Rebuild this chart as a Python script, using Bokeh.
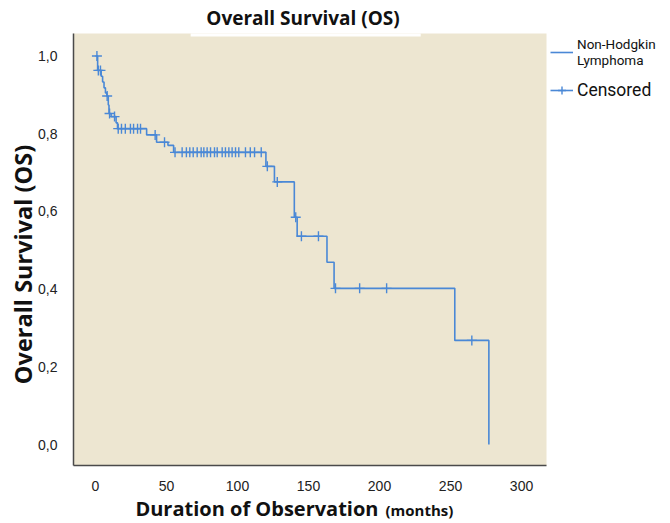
import math
from bokeh.plotting import figure
from bokeh.models import Range1d, Label, Legend, LegendItem, CustomJSTickFormatter, BoxAnnotation
from bokeh.embed import file_html
from bokeh.resources import INLINE

# ---- data ----
event_t = [0, 1.5, 4, 5, 6, 7, 8, 9, 9.5, 11, 14.5, 15.5, 36, 43, 51, 55,
           120, 126, 140, 142, 163, 168, 253, 277]
event_s = [1.0, 0.963, 0.948, 0.933, 0.918, 0.905, 0.897, 0.874, 0.852, 0.844,
           0.828, 0.813, 0.797, 0.778, 0.770, 0.752,
           0.716, 0.676, 0.585, 0.536, 0.469, 0.402, 0.268, 0.0]

cens_t = [1.0, 2.0, 3.5, 8.2, 9.9, 13.4, 16, 18.3, 21, 24.6, 26.8, 29.6, 31.7,
          42, 48.6, 56, 61, 64, 66.4, 68.8, 71.6, 74.4, 76.3, 78.6, 81, 83.8,
          85.7, 89.2, 91.5, 93.9, 96.2, 98.6, 100.9, 105.6, 109, 112, 116.7,
          121, 128, 141, 145, 157, 169, 186, 205, 265]
cens_s = [1.0, 0.963, 0.963, 0.897, 0.852, 0.844, 0.813, 0.813, 0.813, 0.813,
          0.813, 0.813, 0.813,
          0.797, 0.778, 0.752, 0.752, 0.752, 0.752, 0.752, 0.752, 0.752, 0.752,
          0.752, 0.752, 0.752, 0.752, 0.752, 0.752, 0.752, 0.752, 0.752, 0.752,
          0.752, 0.752, 0.752, 0.752,
          0.716, 0.676, 0.585, 0.536, 0.536, 0.402, 0.402, 0.402, 0.268]

x_ticks = [0, 50, 100, 150, 200, 250, 300]
y_ticks = [0.0, 0.2, 0.4, 0.6, 0.8, 1.0]

# plot-area extent (data units)
area_x = (-15.5, 317.6)
area_y = (-0.054, 1.058)

title_text = "Overall Survival (OS)"
y_title = "Overall Survival (OS)"
x_title_main = "Duration of Observation"
x_title_unit = "(months)"
series_label = "Non-Hodgkin\nLymphoma"
censor_label = "Censored"

BLUE = "#4A88D6"
BEIGE = "#EDE6D1"
AXIS = "#4a4a4a"

W, H = 670, 523
p = figure(width=W, height=H, output_backend="svg", toolbar_location=None,
           x_range=Range1d(-66.9, 404.9), y_range=Range1d(-0.2033, 1.1429),
           min_border=0, min_border_left=0, min_border_right=0,
           min_border_top=0, min_border_bottom=0)
p.background_fill_color = "white"
p.border_fill_color = "white"
p.outline_line_color = None
p.grid.visible = False

p.add_layout(BoxAnnotation(left=area_x[0], right=area_x[1], bottom=area_y[0],
                           top=area_y[1], fill_color=BEIGE, fill_alpha=1,
                           line_color=None, level="underlay"))
# white strip behind the title, overlapping the top of the plot area
p.add_layout(BoxAnnotation(left=67, right=229, bottom=1.050, top=area_y[1],
                           fill_color="white", fill_alpha=1, line_color=None,
                           level="underlay"))

for ax in (p.xaxis, p.yaxis):
    ax.axis_line_color = AXIS
    ax.axis_line_width = 1.5
    ax.major_tick_line_color = None
    ax.minor_tick_line_color = None
    ax.major_label_standoff = 10
    ax.major_label_text_font = "Liberation Sans"
    ax.major_label_text_font_size = "14px"
    ax.major_label_text_color = "#222222"
p.xaxis.ticker = x_ticks
p.yaxis.ticker = y_ticks
p.xaxis.fixed_location = area_y[0]
p.yaxis.fixed_location = area_x[0]
p.xaxis.bounds = area_x
p.yaxis.bounds = area_y
p.yaxis.formatter = CustomJSTickFormatter(code="return tick.toFixed(1).replace('.', ',');")

step_r = p.step(event_t, event_s, mode="after", line_color=BLUE, line_width=1.6)
cens_r = p.scatter(cens_t, cens_s, marker="cross", size=10, line_color=BLUE,
                   line_width=1.4)

# legends placed to the right of the plot area
leg1 = Legend(items=[LegendItem(label=series_label, renderers=[step_r])],
              location=(550, 455))
leg2 = Legend(items=[LegendItem(label=censor_label, renderers=[step_r, cens_r])],
              location=(550, 423))
for lg, fs in ((leg1, "13.5px"), (leg2, "17.5px")):
    lg.background_fill_alpha = 0
    lg.border_line_color = None
    lg.padding = 0
    lg.margin = 0
    lg.spacing = 0
    lg.glyph_width = 23
    lg.label_standoff = 4
    lg.label_text_font = "Roboto"
    lg.label_text_font_size = fs
    lg.label_text_color = "#111111"
    p.add_layout(lg)

FONT_B = "Open Sans"
p.add_layout(Label(x=302.5, y=H - 17, x_units="screen", y_units="screen",
                   text=title_text, text_font=FONT_B, text_font_style="bold",
                   text_font_size="19px", text_align="center",
                   text_baseline="middle", text_color="#111111"))
p.add_layout(Label(x=22, y=H - 264, x_units="screen", y_units="screen",
                   text=y_title, text_font=FONT_B, text_font_style="bold",
                   text_font_size="23.5px", text_align="center",
                   text_baseline="middle", angle=math.pi / 2,
                   text_color="#111111"))
p.add_layout(Label(x=378, y=15, x_units="screen", y_units="screen",
                   text=x_title_main, text_font=FONT_B, text_font_style="bold",
                   text_font_size="20px", text_align="right",
                   text_baseline="middle", text_color="#111111"))
p.add_layout(Label(x=385, y=13.5, x_units="screen", y_units="screen",
                   text=x_title_unit, text_font=FONT_B, text_font_style="bold",
                   text_font_size="15px", text_align="left",
                   text_baseline="middle", text_color="#111111"))

open("out.html", "w").write(file_html(p, INLINE))
